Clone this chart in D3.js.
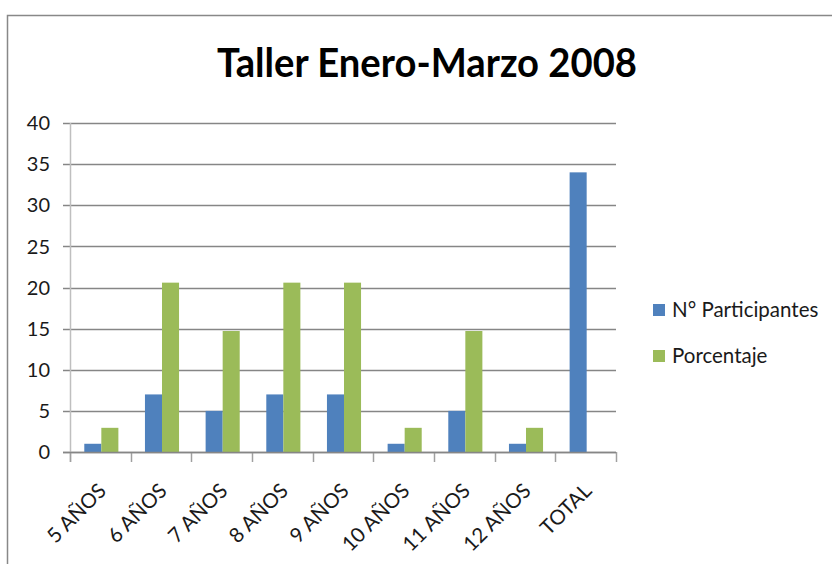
<!DOCTYPE html>
<html>
<head>
<meta charset="utf-8">
<script src="https://cdn.jsdelivr.net/npm/d3@7"></script>
<style>
  body { margin: 0; background: #fff; }
  text { font-family: Lato, "Open Sans", sans-serif; fill: #000; }
</style>
</head>
<body>
<div id="container"></div>
<script>
// Data
var categories = ["5 AÑOS", "6 AÑOS", "7 AÑOS", "8 AÑOS", "9 AÑOS", "10 AÑOS", "11 AÑOS", "12 AÑOS", "TOTAL"];
var participantes = [1, 7, 5, 7, 7, 1, 5, 1, 34];
var porcentaje = [2.94, 20.59, 14.71, 20.59, 20.59, 2.94, 14.71, 2.94, null];
var seriesNames = ["N° Participantes", "Porcentaje"];
var seriesColors = ["#4F81BD", "#9BBB59"];
var yTicks = [0, 5, 10, 15, 20, 25, 30, 35, 40];

var width = 832,
    height = 564;

var svg = d3.select("#container")
            .append("svg")
              .attr("width", width)
              .attr("height", height);

// Chart frame
svg.append("rect")
    .attr("x", 7.5)
    .attr("y", 15.5)
    .attr("width", 840)
    .attr("height", 600)
    .attr("fill", "none")
    .attr("stroke", "#888")
    .attr("stroke-width", 1.5);

// Title
svg.append("text")
    .attr("x", 427)
    .attr("y", 77)
    .attr("text-anchor", "middle")
    .attr("textLength", 420)
    .attr("lengthAdjust", "spacingAndGlyphs")
    .style("font-size", "40px")
    .style("font-weight", "bold")
    .text("Taller Enero-Marzo 2008");

// Scales
var plot = {left: 70, right: 616, top: 123, bottom: 452};

var x = d3.scaleBand()
          .domain(categories)
          .range([plot.left, plot.right]);

var xInner = d3.scaleBand()
               .domain([0, 1])
               .range([1, x.bandwidth() + 1])
               .paddingInner(0)
               .paddingOuter(0.78);

var y = d3.scaleLinear()
          .domain([0, 40])
          .range([plot.bottom, plot.top]);

// Gridlines
svg.append("g")
  .selectAll("line")
  .data(yTicks)
  .enter()
  .append("line")
    .attr("x1", plot.left - 7)
    .attr("x2", plot.right)
    .attr("y1", function(d) { return Math.round(y(d)) + 0.5; })
    .attr("y2", function(d) { return Math.round(y(d)) + 0.5; })
    .attr("stroke", "#868686")
    .attr("stroke-width", 1.5);

// Y axis line
svg.append("line")
    .attr("x1", plot.left + 0.5)
    .attr("x2", plot.left + 0.5)
    .attr("y1", plot.top)
    .attr("y2", plot.bottom + 10)
    .attr("stroke", "#bfbfbf")
    .attr("stroke-width", 1.5);

// Y tick labels
svg.append("g")
  .selectAll("text")
  .data(yTicks)
  .enter()
  .append("text")
    .attr("x", 50)
    .attr("y", function(d) { return y(d); })
    .attr("dy", "0.36em")
    .attr("text-anchor", "end")
    .style("font-size", "20px")
    .style("fill", "#1a1a1a")
    .text(function(d) { return d; });

// X tick marks at band edges
var edges = categories.map(function(c) { return x(c); }).concat([plot.right]);
svg.append("g")
  .selectAll("line")
  .data(edges)
  .enter()
  .append("line")
    .attr("x1", function(d) { return Math.round(d) + 0.5; })
    .attr("x2", function(d) { return Math.round(d) + 0.5; })
    .attr("y1", plot.bottom)
    .attr("y2", plot.bottom + 10)
    .attr("stroke", "#a0a0a0")
    .attr("stroke-width", 1.5);

// Bars
var rows = categories.map(function(c, i) {
  return {cat: c, values: [participantes[i], porcentaje[i]]};
});

var groups = svg.append("g")
  .selectAll("g")
  .data(rows)
  .enter()
  .append("g")
    .attr("transform", function(d) { return "translate(" + x(d.cat) + ",0)"; });

groups.selectAll("rect")
  .data(function(d) {
    return d.values.map(function(v, k) { return {k: k, v: v}; })
                   .filter(function(e) { return e.v != null; });
  })
  .enter()
  .append("rect")
    .attr("x", function(d) { return xInner(d.k); })
    .attr("width", xInner.bandwidth())
    .attr("y", function(d) { return y(d.v); })
    .attr("height", function(d) { return y(0) - y(d.v); })
    .attr("fill", function(d) { return seriesColors[d.k]; });

// X axis line on top of bars
svg.append("line")
    .attr("x1", plot.left - 7)
    .attr("x2", plot.right)
    .attr("y1", plot.bottom + 0.5)
    .attr("y2", plot.bottom + 0.5)
    .attr("stroke", "#868686")
    .attr("stroke-width", 1.5);

// X labels, rotated
svg.append("g")
  .selectAll("text")
  .data(categories)
  .enter()
  .append("text")
    .attr("transform", function(d) {
      return "translate(" + (x(d) + x.bandwidth() / 2 - 3) + "," + (plot.bottom + 30) + ") rotate(-45)";
    })
    .attr("text-anchor", "end")
    .attr("dy", "0.7em")
    .style("font-size", "20.5px")
    .style("fill", "#1a1a1a")
    .text(function(d) { return d; });

// Legend
var legend = svg.append("g")
  .selectAll("g")
  .data(seriesNames)
  .enter()
  .append("g")
    .attr("transform", function(d, i) { return "translate(653," + (304 + i * 46) + ")"; });

legend.append("rect")
    .attr("width", 12)
    .attr("height", 12)
    .attr("fill", function(d, i) { return seriesColors[i]; });

legend.append("text")
    .attr("x", 19)
    .attr("y", 13)
    .style("font-size", "20.5px")
    .style("fill", "#1a1a1a")
    .text(function(d) { return d; });
</script>
</body>
</html>
